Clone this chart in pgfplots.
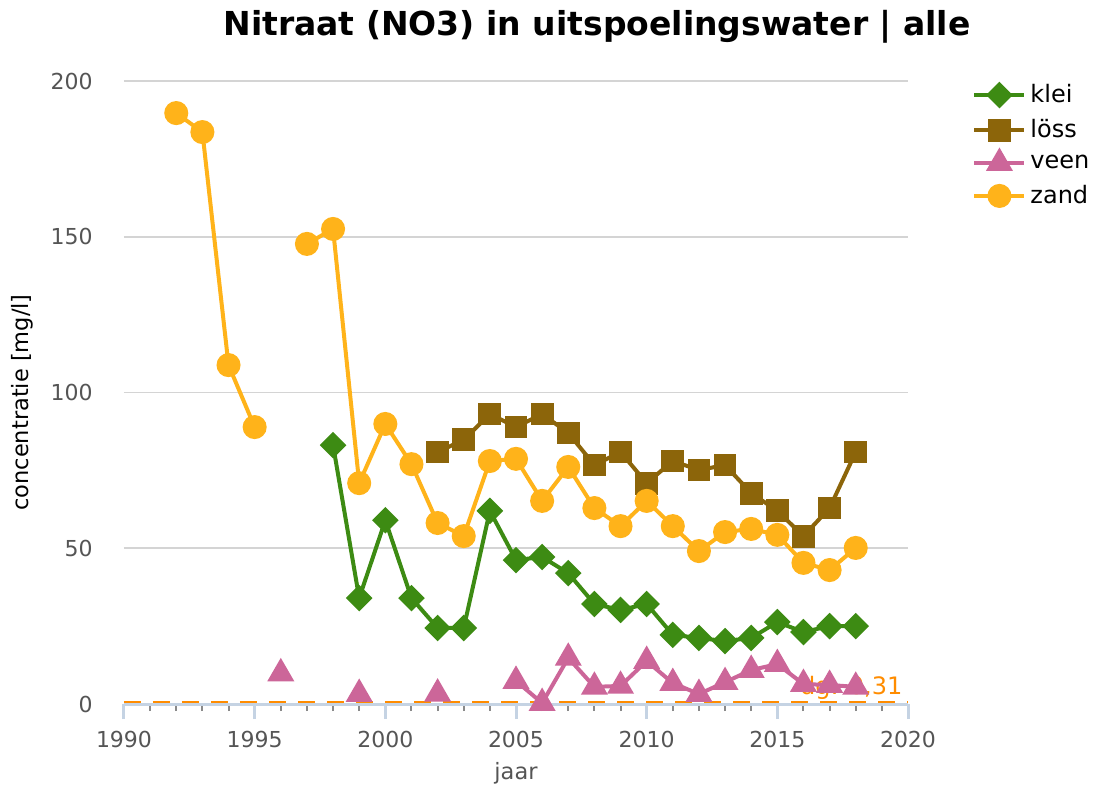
\documentclass[border=0pt]{standalone}
\usepackage{pgfplots}
\pgfplotsset{compat=1.18}
\usepackage{fontspec}
\setmainfont{DejaVu Sans}
\definecolor{klei}{HTML}{3D8B13}
\definecolor{loss}{HTML}{8C650A}
\definecolor{veen}{HTML}{CC6699}
\definecolor{zand}{HTML}{FFB31A}
\definecolor{dgorange}{HTML}{FF8C00}
\definecolor{axisblue}{HTML}{C5D3E3}
\definecolor{tickgray}{HTML}{8A8A8A}
\definecolor{gridgray}{HTML}{D4D4D4}
\definecolor{labelgray}{HTML}{555555}
\begin{document}
\begin{tikzpicture}
\path[use as bounding box] (-62pt,-41.5pt) rectangle (489.5pt,352pt);
\begin{axis}[
  at={(0,0)}, anchor=south west,
  width=392pt, height=311.5pt, scale only axis,
  xmin=1990, xmax=2020, ymin=0, ymax=200,
  clip=false,
  xtick={1990,1995,...,2020}, ytick={0,50,...,200},
  minor x tick num=4,
  axis x line*=bottom, axis y line*=left,
  y axis line style={draw=none},
  x axis line style={draw=axisblue, line width=1.5pt},
  tick align=outside,
  major tick length=7.5pt, minor tick length=3.5pt,
  xtick style={draw=axisblue, line width=1.5pt},
  minor x tick style={draw=tickgray, line width=1pt},
  ytick style={draw=none},
  ymajorgrids, grid style={draw=gridgray, line width=0.8pt},
  /pgf/number format/assume math mode=true,
  /pgf/number format/1000 sep={},
  ticklabel style={font=\fontsize{11}{13}\selectfont, text=labelgray},
  xticklabel style={anchor=center, yshift=-10pt},
  yticklabel style={anchor=east, inner sep=0pt, xshift=-8pt},
  xlabel={jaar}, ylabel={concentratie [mg/l]},
  xlabel style={at={(axis description cs:0.5,-0.1108)}, anchor=center, font=\fontsize{11.25}{13}\selectfont, text=labelgray},
  ylabel style={at={(axis description cs:-0.1301,0.484)}, anchor=center, font=\fontsize{11.25}{13}\selectfont, text=black},
  unbounded coords=jump,
  legend style={at={(rel axis cs:1.0817,1.0016)}, anchor=north west, draw=none, fill=none,
    font=\fontsize{12}{14}\selectfont, inner sep=0pt, row sep=3pt},
  legend cell align=left,
  legend image code/.code={\draw[mark repeat=2,mark phase=2,#1] plot coordinates {(0pt,0pt)(12.5pt,0pt)(25pt,0pt)};},
]
\addplot[forget plot, dgorange, line width=1pt, dash pattern=on 8.5pt off 6pt] coordinates {(1990,0.6)(2020,0.6)};
\node[anchor=base east, text=dgorange, font=\fontsize{12}{14}\selectfont, inner sep=0pt] at (axis cs:2019.8,2.9) {dg: 0,31};

\addplot[klei, line width=2pt, mark=square*, mark size=3.7pt, mark options={rotate=45}] coordinates {
(1998,83.1)(1999,34)(2000,59)(2001,34)(2002,24.4)(2003,24.4)(2004,62)(2005,46.2)(2006,47.2)(2007,42)(2008,32.1)(2009,30.2)(2010,32.1)(2011,22.2)(2012,21.2)(2013,20.2)(2014,21.2)(2015,26.3)(2016,23.1)(2017,25)(2018,25)};
\addlegendentry{klei}
\addplot[loss, line width=2pt, mark=square*, mark size=4.7pt] coordinates {
(2002,80.9)(2003,84.8)(2004,93.1)(2005,88.9)(2006,93.1)(2007,87)(2008,76.7)(2009,80.9)(2010,70.9)(2011,78)(2012,75.1)(2013,76.7)(2014,67.7)(2015,62)(2016,53.9)(2017,62.9)(2018,80.9)};
\addlegendentry{löss}
\addplot[veen, line width=2pt, mark=triangle*, mark size=5.8pt] coordinates {
(1996,9.8)(1997,nan)(1998,nan)(1999,3.2)(2000,nan)(2001,nan)(2002,3.3)(2003,nan)(2004,nan)(2005,7.4)(2006,0.3)(2007,14.8)(2008,5.5)(2009,5.8)(2010,13.8)(2011,6.7)(2012,3.2)(2013,7)(2014,10.9)(2015,12.8)(2016,6.4)(2017,6.1)(2018,5.5)};
\addlegendentry{veen}
\addplot[zand, line width=2pt, mark=*, mark size=5pt] coordinates {
(1992,189.7)(1993,183.6)(1994,108.8)(1995,88.9)(1996,nan)(1997,147.7)(1998,152.5)(1999,70.9)(2000,89.9)(2001,77)(2002,58.1)(2003,53.9)(2004,78)(2005,78.7)(2006,65.2)(2007,76.1)(2008,62.9)(2009,57.1)(2010,65.2)(2011,57.1)(2012,49.1)(2013,55.2)(2014,56.2)(2015,54.3)(2016,45.3)(2017,43)(2018,50.1)};
\addlegendentry{zand}
\end{axis}
\node[anchor=base, font=\bfseries\fontsize{16.5}{19}\selectfont] at (236.5pt,334pt) {Nitraat (NO3) in uitspoelingswater | alle};
\end{tikzpicture}
\end{document}
